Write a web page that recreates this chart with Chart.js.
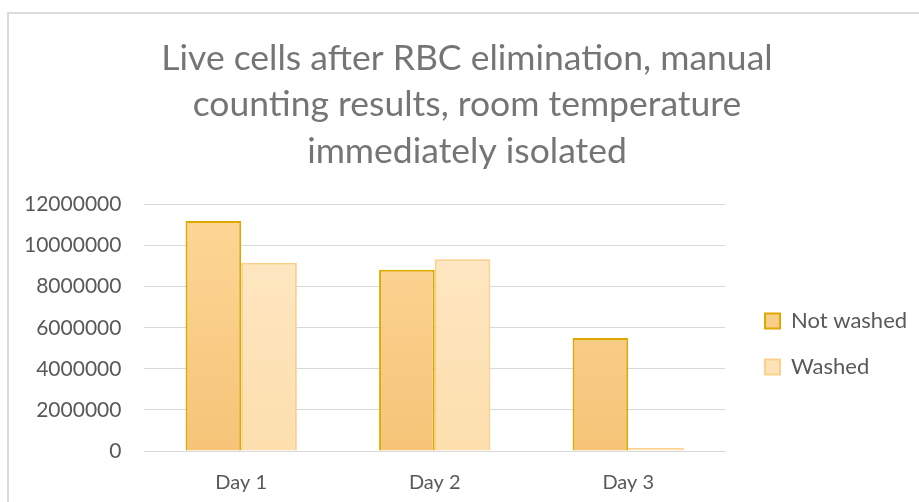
<!DOCTYPE html>
<html>
<head>
<meta charset="utf-8">
<script src="https://cdn.jsdelivr.net/npm/chart.js@4/dist/chart.umd.min.js"></script>
<style>
  html, body { margin: 0; padding: 0; background: #fff; overflow: hidden; }
  #frame { position: absolute; left: 7px; top: 12px; width: 940px; height: 520px; border: 2px solid #dcdcdc; box-sizing: border-box; }
  #wrap { position: absolute; left: 0; top: 0; width: 919px; height: 502px; }
</style>
</head>
<body>
<div id="frame"></div>
<div id="wrap"><canvas id="c" width="919" height="502"></canvas></div>
<script>
const titleLines = ["Live cells after RBC elimination, manual", "counting results, room temperature", "immediately isolated"];
const categories = ["Day 1", "Day 2", "Day 3"];
const notWashed = [11200000, 8820000, 5500000];
const washed = [9170000, 9330000, 150000];
const yTicks = [0, 2000000, 4000000, 6000000, 8000000, 10000000, 12000000];

function grad(ctx, top, bottom) {
  const chart = ctx.chart;
  const a = chart.chartArea;
  if (!a) return top;
  const g = chart.ctx.createLinearGradient(0, a.top, 0, a.bottom);
  g.addColorStop(0, top);
  g.addColorStop(1, bottom);
  return g;
}

const LEGEND_DX = -25, LEGEND_DY = 73, TITLE_DX = 7;
const layoutTweak = {
  id: 'layoutTweak',
  afterLayout(chart) {
    const l = chart.legend;
    if (l) { l.top += LEGEND_DY; l.bottom += LEGEND_DY; l.left += LEGEND_DX; }
    const t = chart.titleBlock;
    if (t) { t.left += TITLE_DX; t.right += TITLE_DX; }
  }
};

const font = "Lato, 'Open Sans', sans-serif";
new Chart(document.getElementById('c'), {
  type: 'bar',
  data: {
    labels: categories,
    datasets: [
      { label: 'Not washed', data: notWashed,
        backgroundColor: c => grad(c, '#fdd797', '#f5c478'),
        borderColor: '#dfa800', borderWidth: 2, borderSkipped: 'bottom' },
      { label: 'Washed', data: washed,
        backgroundColor: c => grad(c, '#fee8c6', '#fddfae'),
        borderColor: '#fbd08a', borderWidth: 2, borderSkipped: 'bottom' }
    ]
  },
  plugins: [layoutTweak],
  options: {
    responsive: false,
    animation: false,
    devicePixelRatio: 1,
    layout: { padding: { left: 1, right: 0, top: 35, bottom: -5 } },
    datasets: { bar: { categoryPercentage: 0.575, barPercentage: 1.0 } },
    plugins: {
      title: { display: true, text: titleLines, color: '#757575',
        font: { family: font, size: 35.5, weight: 'normal', lineHeight: 1.31 },
        padding: { top: 0, bottom: 30 } },
      legend: { position: 'right',
        labels: { color: '#595959', font: { family: font, size: 22 }, boxWidth: 15, boxHeight: 15, padding: 24 } },
      tooltip: { enabled: false }
    },
    scales: {
      x: {
        grid: { display: false },
        border: { display: true, color: '#d9d9d9', width: 1 },
        ticks: { color: '#595959', font: { family: font, size: 20 }, padding: 12 }
      },
      y: {
        min: 0, max: 12000000,
        afterBuildTicks: ax => { ax.ticks = yTicks.map(v => ({ value: v })); },
        grid: { color: '#d9d9d9', lineWidth: 1, drawTicks: false },
        border: { display: false },
        ticks: { color: '#595959', font: { family: font, size: 21 }, padding: 23,
          callback: v => String(v) }
      },
      gap: {
        position: 'right', axis: 'y', display: true,
        grid: { display: false }, border: { display: false },
        ticks: { display: false },
        afterFit: s => { s.width = 41; }
      }
    }
  }
});
</script>
</body>
</html>
